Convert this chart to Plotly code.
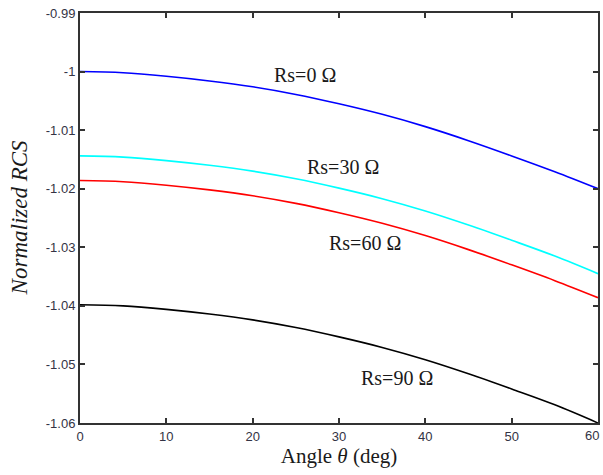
import plotly.graph_objects as go

# Data
angle_deg = [0, 5, 10, 15, 20, 25, 30, 35, 40, 45, 50, 55, 60]
rcs_rs0 = [-1.0000, -1.0002, -1.0008, -1.0016, -1.0026, -1.0039, -1.0055,
           -1.0073, -1.0094, -1.0118, -1.0144, -1.0171, -1.0200]
rcs_rs30 = [-1.0144, -1.0146, -1.0152, -1.0160, -1.0170, -1.0183, -1.0199,
            -1.0217, -1.0238, -1.0262, -1.0288, -1.0315, -1.0345]
rcs_rs60 = [-1.0186, -1.0188, -1.0194, -1.0202, -1.0212, -1.0225, -1.0241,
            -1.0259, -1.0280, -1.0304, -1.0330, -1.0357, -1.0386]
rcs_rs90 = [-1.0398, -1.0400, -1.0406, -1.0414, -1.0424, -1.0437, -1.0453,
            -1.0471, -1.0492, -1.0516, -1.0542, -1.0569, -1.0600]

series_labels = ["Rs=0 Ω", "Rs=30 Ω", "Rs=60 Ω", "Rs=90 Ω"]
series_colors = ["#0000FF", "#00FFFF", "#FF0000", "#000000"]
label_x = [26.1, 30.5, 33.0, 36.7]
label_y = [-1.0006, -1.0163, -1.0293, -1.0523]

x_tickvals = [0, 10, 20, 30, 40, 50, 60]
y_tickvals = [-0.99, -1.0, -1.01, -1.02, -1.03, -1.04, -1.05, -1.06]
y_ticktext = ["-0.99", "-1", "-1.01", "-1.02", "-1.03", "-1.04", "-1.05", "-1.06"]

tick_font = dict(family="Liberation Sans", size=13, color="#333344")

fig = go.Figure()
for ys, name, col in zip([rcs_rs0, rcs_rs30, rcs_rs60, rcs_rs90], series_labels, series_colors):
    fig.add_trace(go.Scatter(x=angle_deg, y=ys, mode="lines", name=name,
                             line=dict(color=col, width=1.6, shape="spline"),
                             showlegend=False))

for t, xx, yy in zip(series_labels, label_x, label_y):
    fig.add_annotation(x=xx, y=yy, text=t, showarrow=False,
                       font=dict(family="Liberation Serif", size=20, color="#1a1a1a"))

fig.add_annotation(xref="paper", yref="paper", x=-0.117, y=0.5, xanchor="center",
                   yanchor="middle", text="<i>Normalized RCS</i>",
                   textangle=-90, showarrow=False,
                   font=dict(family="Liberation Serif", size=23, color="#1a1a1a"))

# last x tick label at the right edge (kept fully inside the page)
fig.add_annotation(x=x_tickvals[-1], xref="x", yref="paper", y=0, yanchor="top", yshift=-3,
                   xanchor="right", xshift=3,
                   text=str(x_tickvals[-1]), showarrow=False, font=tick_font)

axis_common = dict(showline=True, linecolor="#333333", linewidth=2, mirror="ticks",
                   ticks="inside", ticklen=5, tickwidth=1.5, tickcolor="#333333",
                   showgrid=False, zeroline=False, tickfont=tick_font)

fig.update_xaxes(range=[0, 60], tickvals=x_tickvals,
                 title=dict(text="Angle <i>θ</i> (deg)", standoff=4,
                            font=dict(family="Liberation Serif", size=21, color="#1a1a1a")),
                 **axis_common)
fig.update_yaxes(range=[-1.06, -0.99], tickvals=y_tickvals, ticktext=y_ticktext,
                 **axis_common)

fig.update_layout(width=603, height=475, margin=dict(l=80, r=3, t=13, b=52),
                  plot_bgcolor="white", paper_bgcolor="white")

fig.write_html("out.html", config={"displayModeBar": False},
               post_script="document.body.style.margin='0';document.body.style.overflow='hidden';")
